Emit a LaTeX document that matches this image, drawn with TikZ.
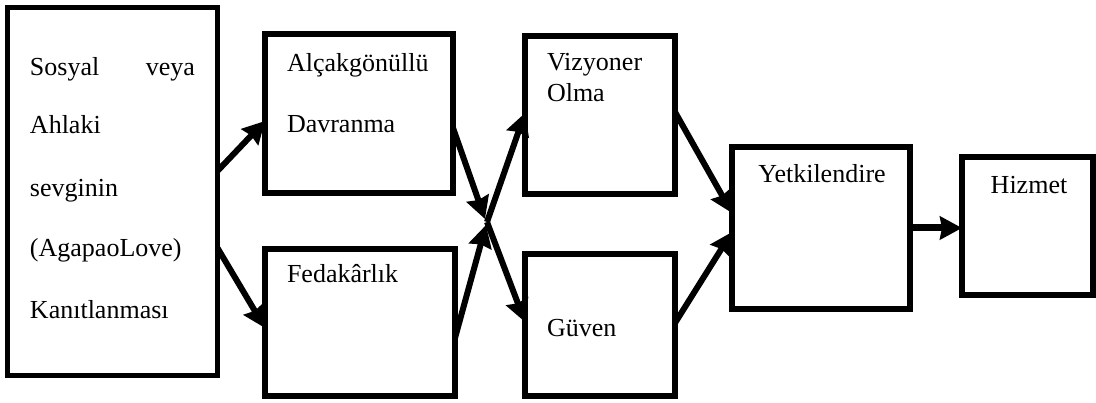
\documentclass[tikz,border=0pt]{standalone}
\usepackage{fontspec}
\setmainfont{Liberation Serif}
\usetikzlibrary{arrows.meta,calc}

\tikzset{
  stage/.style={draw=black, line width=5.5pt, fill=white, inner sep=0pt, outer sep=0pt},
  lbl/.style={inner sep=0pt, outer sep=0pt, font=\fontsize{26}{30}\selectfont},
  flow/.style={draw=black, line width=6pt,
    -{Stealth[length=22pt,width=23pt,inset=2pt]}},
}

\begin{document}
\begin{tikzpicture}[x=1pt,y=-1pt]
  \useasboundingbox (0,0) rectangle (1096,403);

  % stage boxes (centre, size measured between line centres)
  \node[stage, minimum width=210pt, minimum height=368pt] (love) at (112.5,191.5) {};
  \node[stage, minimum width=188pt, minimum height=159pt] (humble) at (359,113.5) {};
  \node[stage, minimum width=190pt, minimum height=147pt] (sacrifice) at (360,322.5) {};
  \node[stage, minimum width=150pt, minimum height=158pt] (vision) at (600,115) {};
  \node[stage, minimum width=150pt, minimum height=142pt] (trust) at (600,325) {};
  \node[stage, minimum width=178pt, minimum height=162pt] (empower) at (821,228) {};
  \node[stage, minimum width=131pt, minimum height=138pt] (service) at (1027.5,226) {};

  % texts
  \node[lbl, anchor=base west] (t1a) at (30,76) {Sosyal};
  \node[lbl, anchor=base east] (t1b) at (195,76) {veya};
  \node[lbl, anchor=base west] (t1c) at (30,134) {Ahlaki};
  \node[lbl, anchor=base west] (t1d) at (30,196.5) {sevginin};
  \node[lbl, anchor=base west] (t1e) at (30,256.5) {(AgapaoLove)};
  \node[lbl, anchor=base west] (t1f) at (30,319) {Kanıtlanması};

  \node[lbl, anchor=base west] (t2a) at (287,71.5) {Alçakgönüllü};
  \node[lbl, anchor=base west] (t2b) at (287,132.5) {Davranma};
  \node[lbl, anchor=base west] (t3) at (287,283) {Fedakârlık};

  \node[lbl, anchor=base west] (t4a) at (547,70.5) {Vizyoner};
  \node[lbl, anchor=base west] (t4b) at (547,101.5) {Olma};
  \node[lbl, anchor=base west] (t5) at (547,337) {Güven};

  \node[lbl, anchor=base] (t6) at (822,183) {Yetkilendire};
  \node[lbl, anchor=base] (t7) at (1029,193.5) {Hizmet};

  % meeting point of the crossing arrows
  \coordinate (meetA) at (485,219);
  \coordinate (meetB) at (486,225);
  \coordinate (fork) at (487,222);

  % connectors
  \draw[flow] ([yshift=20.5pt]love.east) -- ([yshift=-7.5pt]humble.west);
  \draw[flow] ([yshift=-56.5pt]love.east) -- ([yshift=-5.5pt]sacrifice.west);
  \draw[flow] ([yshift=-14.5pt]humble.east) -- (meetA);
  \draw[flow] ([yshift=-15.5pt]sacrifice.east) -- (meetB);
  \draw[flow] (fork) -- ([yshift=2pt]vision.west);
  \draw[flow] (fork) -- ([yshift=3pt]trust.west);
  \draw[flow] ([yshift=3pt]vision.east) -- ([yshift=15pt]empower.west);
  \draw[flow] ([yshift=2pt]trust.east) -- ([yshift=-4pt]empower.west);
  \draw[flow, line width=7pt] ([xshift=3pt]empower.east) -- (service.west |- empower.east);
\end{tikzpicture}
\end{document}
